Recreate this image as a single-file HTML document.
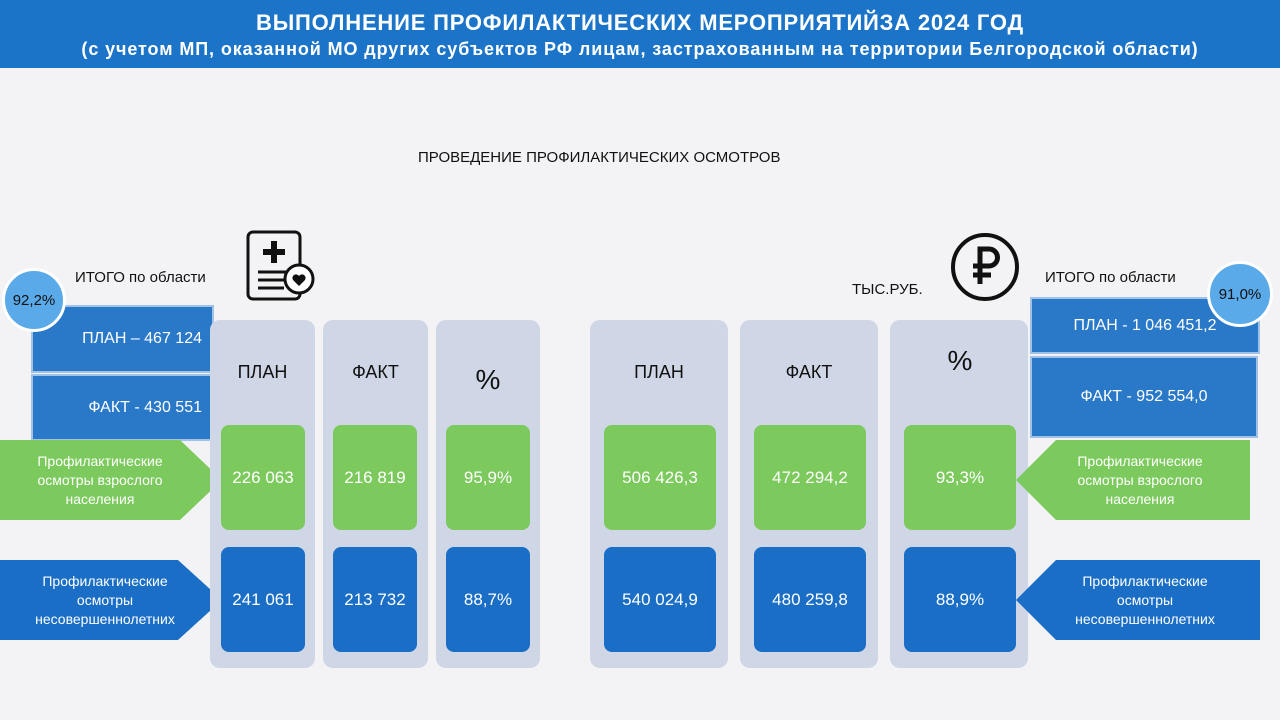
<!DOCTYPE html>
<html><head><meta charset="utf-8"><style>
body{margin:0;width:1280px;height:720px;background:#f3f3f5;font-family:"Liberation Sans","DejaVu Sans",sans-serif;position:relative;overflow:hidden}
.a{position:absolute}
.hdr{left:0;top:0;width:1280px;height:68px;background:#1b74c8;color:#fff;text-align:center}
.col{background:#cfd6e6;border-radius:10px}
.g{background:#7cc95e;border-radius:8px;color:#fff;font-size:17px;display:flex;align-items:center;justify-content:center}
.b{background:#1a6ec6;border-radius:8px;color:#fff;font-size:17px;display:flex;align-items:center;justify-content:center}
.h{font-size:18px;color:#111;text-align:center}
.tb{background:#2a79c9;border:2px solid #9fc2e6;color:#fff;font-size:16px;display:flex;align-items:center;justify-content:center;box-sizing:border-box}
.circ{background:#5aaaea;border:3px solid #fff;border-radius:50%;display:flex;align-items:center;justify-content:center;font-size:15px;color:#111;box-sizing:border-box}
.lab{color:#fff;font-size:14px;text-align:center;line-height:19px;display:flex;align-items:center;justify-content:center}
</style></head><body>
<div class="a hdr"><div style="font-size:22px;font-weight:bold;margin-top:10px;letter-spacing:0.8px">ВЫПОЛНЕНИЕ ПРОФИЛАКТИЧЕСКИХ МЕРОПРИЯТИЙЗА 2024 ГОД</div><div style="font-size:18px;font-weight:bold;margin-top:3px;letter-spacing:0.9px">(с учетом МП, оказанной МО других субъектов РФ лицам, застрахованным на территории Белгородской области)</div></div>
<div class="a" style="left:418px;top:149px;font-size:15px;color:#111">ПРОВЕДЕНИЕ ПРОФИЛАКТИЧЕСКИХ ОСМОТРОВ</div>

<!-- left -->
<div class="a" style="left:75px;top:269px;font-size:15px;color:#111">ИТОГО по области</div>
<svg class="a" style="left:245px;top:229px" width="72" height="74"><rect x="3" y="3" width="52" height="67" rx="5" fill="none" stroke="#111" stroke-width="3"/><path d="M29 12v22M18 23h22" stroke="#111" stroke-width="6"/><path d="M13 43h28M13 51h26M13 59h26" stroke="#111" stroke-width="3"/><circle cx="54" cy="50" r="14" fill="#fff" stroke="#111" stroke-width="3"/><path d="M54 57l-6-6a3.5 3.5 0 0 1 6-4a3.5 3.5 0 0 1 6 4z" fill="#111"/></svg>
<div class="a tb" style="left:31px;top:305px;width:183px;height:68px;justify-content:flex-end;padding-right:10px">ПЛАН – 467 124</div>
<div class="a tb" style="left:31px;top:374px;width:183px;height:67px;justify-content:flex-end;padding-right:10px">ФАКТ - 430 551</div>
<div class="a circ" style="left:2px;top:268px;width:64px;height:64px">92,2%</div>
<svg class="a" style="left:0;top:440px" width="224" height="202"><polygon points="0,0 180,0 222,40 180,80 0,80" fill="#7cc95e"/><polygon points="0,120 178,120 222,160 178,200 0,200" fill="#1a6ec6"/></svg>
<div class="a lab" style="left:20px;top:440px;width:160px;height:80px">Профилактические<br>осмотры взрослого<br>населения</div>
<div class="a lab" style="left:20px;top:560px;width:170px;height:80px">Профилактические<br>осмотры<br>несовершеннолетних</div>

<div class="a col" style="left:210px;top:320px;width:105px;height:348px"></div>
<div class="a col" style="left:323px;top:320px;width:105px;height:348px"></div>
<div class="a col" style="left:436px;top:320px;width:104px;height:348px"></div>
<div class="a h" style="left:210px;top:362px;width:105px">ПЛАН</div>
<div class="a h" style="left:323px;top:362px;width:105px">ФАКТ</div>
<div class="a h" style="left:436px;top:364px;width:104px;font-size:28px">%</div>
<div class="a g" style="left:221px;top:425px;width:84px;height:105px">226 063</div>
<div class="a g" style="left:333px;top:425px;width:84px;height:105px">216 819</div>
<div class="a g" style="left:446px;top:425px;width:84px;height:105px">95,9%</div>
<div class="a b" style="left:221px;top:547px;width:84px;height:105px">241 061</div>
<div class="a b" style="left:333px;top:547px;width:84px;height:105px">213 732</div>
<div class="a b" style="left:446px;top:547px;width:84px;height:105px">88,7%</div>

<!-- right -->
<div class="a col" style="left:590px;top:320px;width:138px;height:348px"></div>
<div class="a col" style="left:740px;top:320px;width:138px;height:348px"></div>
<div class="a col" style="left:890px;top:320px;width:138px;height:348px"></div>
<div class="a h" style="left:590px;top:362px;width:138px">ПЛАН</div>
<div class="a h" style="left:740px;top:362px;width:138px">ФАКТ</div>
<div class="a h" style="left:890px;top:345px;width:140px;font-size:28px">%</div>
<div class="a g" style="left:604px;top:425px;width:112px;height:105px">506 426,3</div>
<div class="a g" style="left:754px;top:425px;width:112px;height:105px">472 294,2</div>
<div class="a g" style="left:904px;top:425px;width:112px;height:105px">93,3%</div>
<div class="a b" style="left:604px;top:547px;width:112px;height:105px">540 024,9</div>
<div class="a b" style="left:754px;top:547px;width:112px;height:105px">480 259,8</div>
<div class="a b" style="left:904px;top:547px;width:112px;height:105px">88,9%</div>
<div class="a" style="left:852px;top:281px;font-size:15px;color:#111">ТЫС.РУБ.</div>
<svg class="a" style="left:950px;top:232px" width="72" height="72"><circle cx="35" cy="35" r="32" fill="none" stroke="#111" stroke-width="4"/><path d="M30 52V17h9a8.5 8.5 0 0 1 0 17H23M23 43h18" fill="none" stroke="#111" stroke-width="5"/></svg>
<div class="a" style="left:1045px;top:269px;font-size:15px;color:#111">ИТОГО по области</div>
<div class="a tb" style="left:1030px;top:297px;width:230px;height:57px">ПЛАН - 1 046 451,2</div>
<div class="a tb" style="left:1030px;top:356px;width:228px;height:82px">ФАКТ - 952 554,0</div>
<div class="a circ" style="left:1207px;top:261px;width:66px;height:66px">91,0%</div>
<svg class="a" style="left:1014px;top:440px" width="250" height="202"><polygon points="2,40 42,0 236,0 236,80 42,80" fill="#7cc95e"/><polygon points="2,160 42,120 246,120 246,200 42,200" fill="#1a6ec6"/></svg>
<div class="a lab" style="left:1060px;top:440px;width:160px;height:80px">Профилактические<br>осмотры взрослого<br>населения</div>
<div class="a lab" style="left:1060px;top:560px;width:170px;height:80px">Профилактические<br>осмотры<br>несовершеннолетних</div>
</body></html>
